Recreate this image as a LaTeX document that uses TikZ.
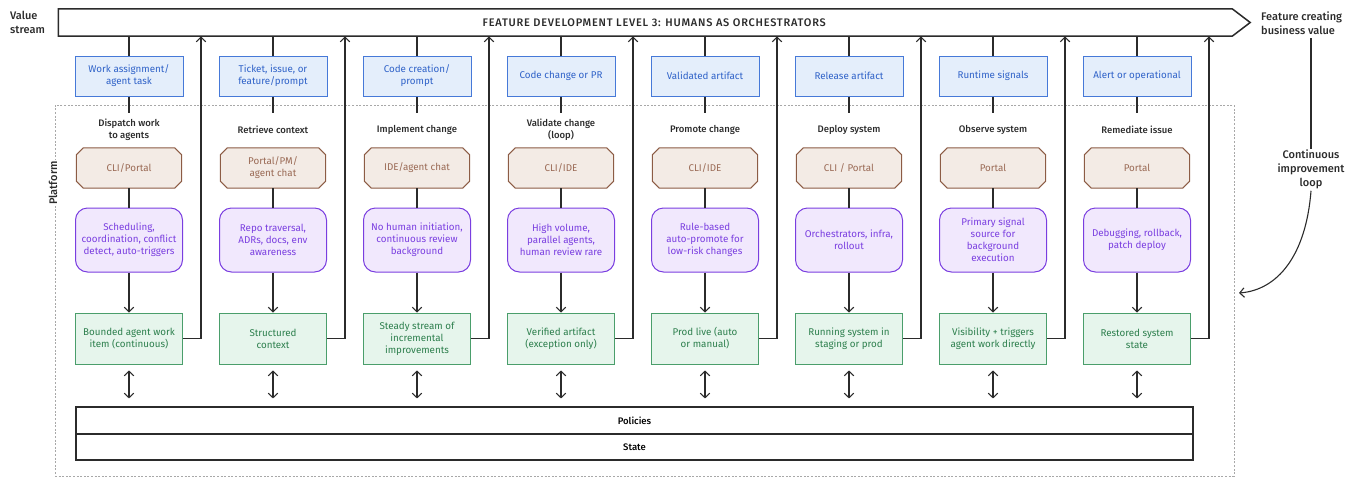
\documentclass[tikz,border=0pt]{standalone}
\usepackage{fontspec}
\setmainfont{Fira Sans}
\newfontfamily\medfont{Fira Sans Medium}
\usetikzlibrary{arrows.meta,calc,backgrounds}

\definecolor{ink}{HTML}{2B2B2B}
\definecolor{inblue}{HTML}{4679D8}
\definecolor{inbluebg}{HTML}{E4EEFB}
\definecolor{inbluetx}{HTML}{2F62C8}
\definecolor{ifbrown}{HTML}{8C5C45}
\definecolor{ifbrownbg}{HTML}{F3EBE5}
\definecolor{ifbrowntx}{HTML}{9A6A55}
\definecolor{capviolet}{HTML}{7A3EE0}
\definecolor{capvioletbg}{HTML}{F1E8FD}
\definecolor{outgreen}{HTML}{4A9E6B}
\definecolor{outgreenbg}{HTML}{E6F5EC}
\definecolor{outgreentx}{HTML}{2D7F4D}
\definecolor{framegray}{HTML}{A8A8A8}

\newcommand\bxfont{\fontsize{9.8}{12}\selectfont}
\newcommand\ttlfont{\medfont\fontsize{9.5}{11.5}\selectfont}
\newcommand\sidefont{\medfont\fontsize{11}{14}\selectfont}

\tikzset{
  flow/.style={draw=ink, line width=1.1pt},
  onetip/.style={-{Straight Barb[length=4.5pt,width=9.5pt,line width=1.1pt]}},
  twotip/.style={{Straight Barb[length=4.5pt,width=9.5pt,line width=1.1pt]}-{Straight Barb[length=4.5pt,width=9.5pt,line width=1.1pt]}},
  inbox/.style={draw=inblue, fill=inbluebg, text=inbluetx, line width=1pt,
    minimum width=108pt, minimum height=40pt, inner sep=0pt, align=center, font=\bxfont},
  ttl/.style={text=ink, inner sep=0pt, align=center, font=\ttlfont},
  iface/.style={text=ifbrowntx, minimum width=105pt, minimum height=40pt,
    inner sep=0pt, align=center, font=\bxfont},
  ifaceedge/.style={draw=ifbrown, fill=ifbrownbg, line width=1pt},
  capbox/.style={draw=capviolet, fill=capvioletbg, text=capviolet, line width=1pt,
    rounded corners=12pt, minimum width=107pt, minimum height=64pt, inner sep=0pt,
    align=center, font=\bxfont},
  outbox/.style={draw=outgreen, fill=outgreenbg, text=outgreentx, line width=1pt,
    minimum width=107pt, minimum height=51pt, inner sep=0pt, align=center, font=\bxfont},
  layerbox/.style={draw=ink, line width=1.1pt, minimum width=1117pt, inner sep=0pt,
    font=\ttlfont},
  sidelbl/.style={text=ink, inner sep=0pt, font=\sidefont},
}

% one stage of the value stream: input, step, interface, capability, output
\newcommand\stagecol[6]{%
  \pgfmathsetmacro\cx{129+144*(#1-1)}
  \node[inbox] (in#1) at (\cx,76) {#2};
  \node[ttl] (ti#1) at (\cx,129.5) {#3};
  \coordinate (tt#1) at (\cx,113);
  \node[iface] (if#1) at (\cx,168) {#4};
  \begin{pgfonlayer}{background}
    \draw[ifaceedge] ($(if#1.north west)+(7,0)$) -- ($(if#1.north east)+(-7,0)$)
      -- ($(if#1.north east)+(0,7)$) -- ($(if#1.south east)+(0,-7)$)
      -- ($(if#1.south east)+(-7,0)$) -- ($(if#1.south west)+(7,0)$)
      -- ($(if#1.south west)+(0,-7)$) -- ($(if#1.north west)+(0,7)$) -- cycle;
  \end{pgfonlayer}
  \node[capbox] (ca#1) at (\cx,240) {#5};
  \node[outbox] (ou#1) at (\cx,338.5) {#6};
  \coordinate (rt#1) at (\cx+72,36.5);
  \draw[flow] (in#1.north |- vs.south) -- (in#1.north);
  \draw[flow] (in#1.south) -- (tt#1);
  \draw[flow] (if#1.south) -- (ca#1.north);
  \draw[flow,onetip] (ca#1.south) -- (ou#1.north);
  \draw[flow,onetip] (ou#1.east) -| (rt#1);
  \draw[flow,twotip,shorten <=6pt,shorten >=8pt] (ou#1.south) -- (ou#1.south |- pol.north);
}

\begin{document}
\begin{tikzpicture}[x=1pt,y=-1pt]
\useasboundingbox (0,0) rectangle (1359,479);

% platform frame
\node[draw=framegray, dash pattern=on 2pt off 1.6pt, line width=0.8pt,
  minimum width=1179pt, minimum height=371pt, inner sep=0pt] (plat) at (644.5,290.5) {};
\node[sidelbl, fill=white, rotate=90, inner sep=1.5pt] (platlbl) at (53,183) {Platform};

% value stream banner
\node[inner sep=0pt, minimum width=1191.5pt, minimum height=27pt,
  font=\medfont\fontsize{11}{13}\selectfont\addfontfeatures{LetterSpace=7}, text=ink]
  (vs) at (654.25,22.5) {FEATURE DEVELOPMENT LEVEL 3: HUMANS AS ORCHESTRATORS};
\begin{pgfonlayer}{background}
  \draw[draw=ink, line width=1.5pt, fill=white] (vs.north west) -- ($(vs.north east)+(-18,0)$)
    -- (vs.east) -- ($(vs.south east)+(-18,0)$) -- (vs.south west) -- cycle;
\end{pgfonlayer}

\node[sidelbl, anchor=west, align=left] (vsl) at (10,22) {Value\\stream};
\node[sidelbl, anchor=west, align=left] (fcv) at (1261,23.5) {Feature creating\\business value};
\node[sidelbl, align=center] (cil) at (1311,169) {Continuous\\improvement\\loop};
\coordinate (loopin) at (1239,293);
\draw[flow] (cil.north |- fcv.south) ++(0,3) -- (cil.north);
\draw[flow,onetip] ([yshift=-2pt]cil.south) .. controls (1306,255) and (1278,290) .. (loopin);

% shared platform layers
\node[layerbox, minimum height=27pt] (pol) at (634.5,420.5) {Policies};
\node[layerbox, minimum height=26pt] (sta) at (634.5,447) {State};

\stagecol{1}{Work assignment/\\agent task}{Dispatch work\\to agents}{CLI/Portal}
  {Scheduling,\\coordination, conflict\\detect, auto-triggers}{Bounded agent work\\item (continuous)}
\stagecol{2}{Ticket, issue, or\\feature/prompt}{Retrieve context}{Portal/PM/\\agent chat}
  {Repo traversal,\\ADRs, docs, env\\awareness}{Structured\\context}
\stagecol{3}{Code creation/\\prompt}{Implement change}{IDE/agent chat}
  {No human initiation,\\continuous review\\background}{Steady stream of\\incremental\\improvements}
\stagecol{4}{Code change or PR}{Validate change\\(loop)}{CLI/IDE}
  {High volume,\\parallel agents,\\human review rare}{Verified artifact\\(exception only)}
\stagecol{5}{Validated artifact}{Promote change}{CLI/IDE}
  {Rule-based\\auto-promote for\\low-risk changes}{Prod live (auto\\or manual)}
\stagecol{6}{Release artifact}{Deploy system}{CLI / Portal}
  {Orchestrators, infra,\\rollout}{Running system in\\staging or prod}
\stagecol{7}{Runtime signals}{Observe system}{Portal}
  {Primary signal\\source for\\background\\execution}{Visibility + triggers\\agent work directly}
\stagecol{8}{Alert or operational}{Remediate issue}{Portal}
  {Debugging, rollback,\\patch deploy}{Restored system\\state}
\end{tikzpicture}
\end{document}
